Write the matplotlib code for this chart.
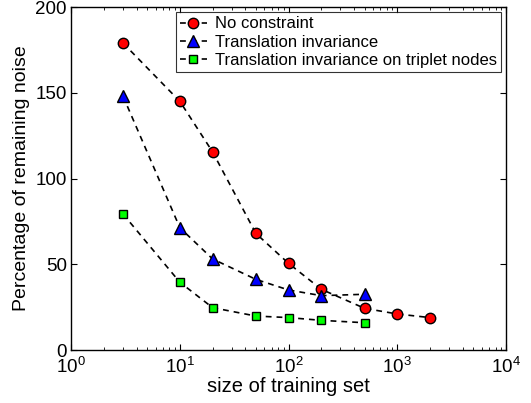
import matplotlib
matplotlib.use("Agg")
import matplotlib.pyplot as plt
from matplotlib.ticker import LogLocator

plt.rcParams["font.family"] = ["Liberation Sans", "DejaVu Sans"]

# data
x_red = [3, 10, 20, 50, 100, 200, 500, 1000, 2000]
y_red = [179, 145, 115.5, 68, 50.5, 35.4, 24.3, 21, 18.9]
x_blue = [3, 10, 20, 50, 100, 200, 500]
y_blue = [148, 71.3, 53.1, 41.2, 35, 31.7, 32.5]
x_green = [3, 10, 20, 50, 100, 200, 500]
y_green = [79.3, 39.5, 24.7, 19.8, 18.9, 17.3, 15.9]

labels = ["No constraint", "Translation invariance",
          "Translation invariance on triplet nodes"]

fig = plt.figure(figsize=(5.31, 4.03), dpi=100)
ax = fig.add_axes([0.134, 0.1315, 0.819, 0.851])

common = dict(linestyle="--", color="black", lw=1.2, markeredgecolor="black",
              markeredgewidth=1.0, dashes=(3.5, 3))
ax.plot(x_red, y_red, marker="o", markersize=7.5, markerfacecolor="#ff0000",
        label=labels[0], **common)
ax.plot(x_blue, y_blue, marker="^", markersize=8, markerfacecolor="#0000ff",
        label=labels[1], **common)
ax.plot(x_green, y_green, marker="s", markersize=6, markerfacecolor="#00ff00",
        label=labels[2], **common)

ax.set_xscale("log")
ax.set_xlim(1, 1e4)
ax.set_ylim(0, 200)
ax.set_yticks([0, 50, 100, 150, 200])
ax.xaxis.set_major_locator(LogLocator(base=10, numticks=10))
ax.xaxis.set_minor_locator(LogLocator(base=10, subs=range(2, 10), numticks=20))

ax.tick_params(which="both", direction="in", top=True, right=True,
               labelsize=13.5)
ax.tick_params(axis="x", pad=5)
ax.tick_params(axis="y", pad=3)
ax.tick_params(which="major", length=4)
ax.tick_params(which="minor", length=2)
for s in ax.spines.values():
    s.set_linewidth(1.0)

ax.set_xlabel("size of training set", fontsize=14.5, labelpad=0)
ax.set_ylabel("Percentage of remaining noise", fontsize=14, labelpad=4)

leg = ax.legend(loc="upper right", bbox_to_anchor=(0.989, 0.985),
                fontsize=12, frameon=True, fancybox=False, edgecolor="black",
                handlelength=1.6, handletextpad=0.5, borderpad=0.25,
                labelspacing=0.2, borderaxespad=0)
leg.get_frame().set_linewidth(0.8)

fig.savefig("out.png", dpi=100)
